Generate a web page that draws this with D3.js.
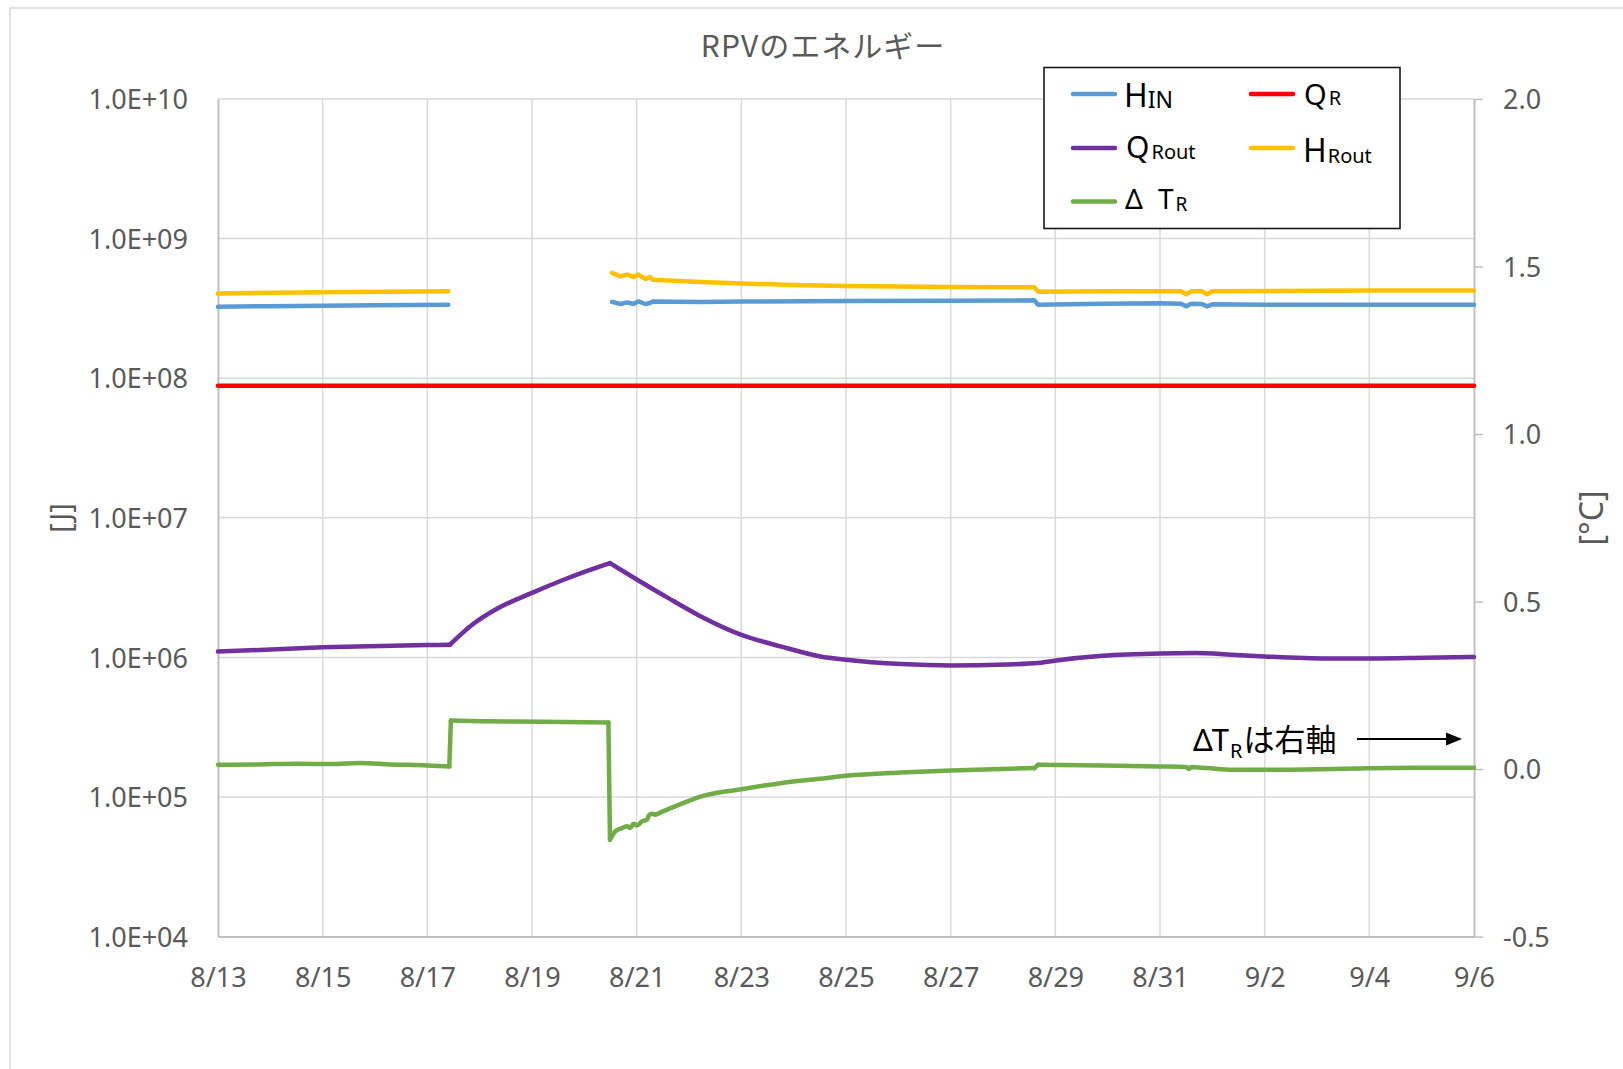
<!DOCTYPE html>
<html>
<head>
<meta charset="utf-8">
<title>RPVのエネルギー</title>
<script src="https://cdn.jsdelivr.net/npm/d3@7"></script>
<style>
  html, body { margin: 0; padding: 0; background: #ffffff; }
  svg { display: block; }
</style>
</head>
<body>
<svg id="chart" width="1623" height="1069"></svg>
<script>
// ---- Data -----------------------------------------------------------------
// Each series: [days since 8/13, value]. A null value breaks the line.
const xTickLabels = ["8/13", "8/15", "8/17", "8/19", "8/21", "8/23", "8/25",
                     "8/27", "8/29", "8/31", "9/2", "9/4", "9/6"];
const yTickValues = [1e4, 1e5, 1e6, 1e7, 1e8, 1e9, 1e10];
const yTickLabels = ["1.0E+04", "1.0E+05", "1.0E+06", "1.0E+07", "1.0E+08", "1.0E+09", "1.0E+10"];
const y2TickValues = [-0.5, 0.0, 0.5, 1.0, 1.5, 2.0];
const y2TickLabels = ["-0.5", "0.0", "0.5", "1.0", "1.5", "2.0"];

// H_IN [J]
const hIn = [
  [0, 3.25e8], [1, 3.28e8], [2, 3.30e8], [3, 3.33e8], [4.40, 3.36e8],
  [6.0, null],
  [7.53, 3.52e8], [7.69, 3.40e8], [7.82, 3.49e8], [7.94, 3.40e8], [8.03, 3.55e8],
  [8.17, 3.40e8], [8.25, 3.46e8], [8.31, 3.55e8], [9.22, 3.52e8], [10, 3.54e8],
  [12, 3.57e8], [14, 3.59e8], [15.6, 3.61e8], [15.67, 3.36e8], [16.9, 3.42e8],
  [18.0, 3.44e8], [18.4, 3.42e8], [18.5, 3.27e8], [18.6, 3.42e8], [18.8, 3.40e8],
  [18.9, 3.27e8], [19.0, 3.38e8], [20, 3.36e8], [22, 3.36e8], [24, 3.36e8]
];

// Q_R [J]
const qR = [[0, 8.83e7], [24, 8.83e7]];

// Q_Rout [J]
const qRout = [
  [0, 1.10e6], [2, 1.18e6], [4, 1.226e6], [4.43, 1.232e6], [4.88, 1.74e6],
  [5.34, 2.24e6], [6.0, 2.90e6], [6.58, 3.57e6], [7.0, 4.10e6], [7.49, 4.74e6],
  [8.01, 3.60e6], [8.59, 2.68e6], [9.20, 1.99e6], [10, 1.45e6], [10.75, 1.20e6],
  [11.51, 1.016e6], [12, 9.62e5], [13.06, 8.96e5], [14, 8.76e5], [15.06, 8.90e5],
  [15.67, 9.11e5], [16.02, 9.51e5], [16.9, 1.027e6], [18, 1.067e6], [18.67, 1.074e6],
  [19.38, 1.044e6], [20, 1.016e6], [21.2, 9.83e5], [22, 9.83e5], [23.06, 9.94e5],
  [24, 1.006e6]
];

// H_Rout [J]
const hRout = [
  [0, 4.05e8], [2, 4.12e8], [4.40, 4.19e8],
  [6.0, null],
  [7.53, 5.68e8], [7.69, 5.37e8], [7.82, 5.52e8], [7.94, 5.31e8], [8.03, 5.52e8],
  [8.17, 5.14e8], [8.25, 5.31e8], [8.31, 5.08e8], [9.22, 4.89e8], [10, 4.76e8],
  [11, 4.66e8], [12, 4.58e8], [13, 4.53e8], [14, 4.505e8], [15.6, 4.48e8],
  [15.67, 4.17e8], [17, 4.19e8], [18, 4.20e8], [18.4, 4.19e8], [18.5, 4.00e8],
  [18.6, 4.19e8], [18.8, 4.19e8], [18.9, 4.00e8], [19.0, 4.20e8], [20, 4.22e8],
  [22, 4.24e8], [24, 4.24e8]
];

// ΔT_R [°C] (right axis)
const dTR = [
  [0, 0.013], [0.8, 0.014], [1.5, 0.016], [2.2, 0.015], [2.7, 0.018], [3.3, 0.014],
  [4.0, 0.011], [4.42, 0.008], [4.45, 0.145], [5.0, 0.143], [6.2, 0.141],
  [7.46, 0.139], [7.49, -0.211], [7.59, -0.186], [7.72, -0.176], [7.82, -0.171],
  [7.88, -0.176], [7.94, -0.163], [8.01, -0.168], [8.10, -0.156], [8.20, -0.151],
  [8.23, -0.139], [8.29, -0.133], [8.36, -0.136], [8.58, -0.121], [8.90, -0.101],
  [9.22, -0.082], [10, -0.060], [10.75, -0.042], [11.5, -0.029], [12, -0.020],
  [13.06, -0.010], [14, -0.004], [15.6, 0.003], [15.67, 0.013], [16.9, 0.011],
  [18, 0.008], [18.5, 0.006], [18.55, 0.0], [18.6, 0.006], [18.9, 0.003],
  [19.38, -0.002], [20, -0.002], [21.5, 0.001], [22.8, 0.004], [24, 0.004]
];

// ---- Layout ---------------------------------------------------------------
const W = 1623, H = 1069;
const plot = { left: 218, right: 1474, top: 99, bottom: 936.6 };
const axisFont = "'Noto Sans', 'Open Sans', sans-serif";
const cjkFont = "'Noto Sans CJK JP', 'Noto Sans', sans-serif";
const gray = "#595959";

const svg = d3.select("#chart");

// outer chart frame
svg.append("rect")
  .attr("x", 10).attr("y", 8).attr("width", W + 40).attr("height", H + 40)
  .attr("fill", "#ffffff").attr("stroke", "#d9d9d9").attr("stroke-width", 1.5);

// ---- Scales ---------------------------------------------------------------
const parseMD = d3.timeParse("%m/%d");
const startDate = parseMD(xTickLabels[0]);
const endDate = parseMD(xTickLabels[xTickLabels.length - 1]);
const dayToDate = d => new Date(startDate.getTime() + d * 864e5);

const x = d3.scaleTime().domain([startDate, endDate]).range([plot.left, plot.right]);
const y = d3.scaleLog().domain([1e4, 1e10]).range([plot.bottom, plot.top]);
const y2 = d3.scaleLinear().domain([-0.5, 2.0]).range([plot.bottom, plot.top]);

const xTickDates = xTickLabels.map(parseMD);

// ---- Gridlines ------------------------------------------------------------
const grid = svg.append("g").attr("class", "grid");
grid.selectAll("line.h")
  .data(yTickValues.slice(1))
  .join("line")
  .attr("x1", plot.left).attr("x2", plot.right)
  .attr("y1", d => y(d)).attr("y2", d => y(d))
  .attr("stroke", "#d9d9d9").attr("stroke-width", 1.5);
grid.selectAll("line.v")
  .data(xTickDates.slice(1, -1))
  .join("line")
  .attr("x1", d => x(d)).attr("x2", d => x(d))
  .attr("y1", plot.top).attr("y2", plot.bottom)
  .attr("stroke", "#d9d9d9").attr("stroke-width", 1.5);

// ---- Axes -----------------------------------------------------------------
function styleAxis(g) {
  g.select(".domain").attr("stroke", "#bfbfbf").attr("stroke-width", 2);
  g.selectAll(".tick line").attr("stroke", "#bfbfbf").attr("stroke-width", 1.5);
  g.selectAll(".tick text")
    .attr("fill", gray)
    .style("font-family", axisFont)
    .style("font-size", "27px");
}

svg.append("g")
  .attr("transform", `translate(${plot.left},0)`)
  .call(d3.axisLeft(y).tickValues(yTickValues)
    .tickFormat((d, i) => yTickLabels[i]).tickSize(0).tickPadding(30))
  .call(styleAxis)
  .call(g => g.selectAll(".tick text").attr("dy", "0.36em"));

svg.append("g")
  .attr("transform", `translate(${plot.right},0)`)
  .call(d3.axisRight(y2).tickValues(y2TickValues)
    .tickFormat((d, i) => y2TickLabels[i]).tickSizeInner(9).tickSizeOuter(0).tickPadding(20))
  .call(styleAxis)
  .call(g => g.selectAll(".tick text").attr("dy", "0.36em"));

svg.append("g")
  .attr("transform", `translate(0,${plot.bottom})`)
  .call(d3.axisBottom(x).tickValues(xTickDates)
    .tickFormat((d, i) => xTickLabels[i]).tickSize(0).tickPadding(31))
  .call(styleAxis);

// ---- Series ---------------------------------------------------------------
// Split a series into pieces at the given corner days, so that a smoothing
// curve keeps the sharp corners of the trace while rounding the rest.
function splitAt(data, corners) {
  const out = [];
  let cur = [];
  data.forEach(p => {
    cur.push(p);
    if (corners.includes(p[0])) { out.push(cur); cur = [p]; }
  });
  if (cur.length > 1) out.push(cur);
  return out;
}

const series = [
  { data: hIn,   color: "#5b9bd5", axis: y,  corners: [], curve: d3.curveLinear },
  { data: qR,    color: "#ff0000", axis: y,  corners: [], curve: d3.curveLinear },
  { data: qRout, color: "#7030a0", axis: y,  corners: [4.43, 7.49], curve: d3.curveMonotoneX },
  { data: hRout, color: "#ffc000", axis: y,  corners: [], curve: d3.curveLinear },
  { data: dTR,   color: "#70ad47", axis: y2, corners: [4.42, 4.45, 7.46, 7.49, 8.36, 15.6, 15.67],
    curve: d3.curveMonotoneX }
];

const seriesLayer = svg.append("g").attr("fill", "none")
  .attr("stroke-width", 4.5).attr("stroke-linecap", "round").attr("stroke-linejoin", "round");

series.forEach(s => {
  const gen = d3.line()
    .defined(d => d[1] !== null)
    .x(d => x(dayToDate(d[0])))
    .y(d => s.axis(d[1]))
    .curve(s.curve);
  seriesLayer.append("g")
    .attr("stroke", s.color)
    .selectAll("path")
    .data(splitAt(s.data, s.corners))
    .join("path")
    .attr("d", gen);
});

// ---- Titles ---------------------------------------------------------------
svg.append("text")
  .attr("x", 823).attr("y", 57)
  .attr("text-anchor", "middle")
  .attr("fill", gray)
  .style("font-family", cjkFont).style("font-size", "30px").style("letter-spacing", "1px")
  .text("RPVのエネルギー");

svg.append("text")
  .attr("transform", "translate(61,518) rotate(-90)")
  .attr("text-anchor", "middle").attr("dy", "0.35em")
  .attr("fill", gray)
  .style("font-family", axisFont).style("font-size", "29px")
  .text("[J]");

svg.append("text")
  .attr("transform", "translate(1592,518) rotate(-90)")
  .attr("text-anchor", "middle").attr("dy", "0.35em")
  .attr("fill", gray)
  .style("font-family", axisFont).style("font-size", "32px")
  .text("[°C]");

// ---- Legend ---------------------------------------------------------------
const legend = svg.append("g").attr("class", "legend");
legend.append("rect")
  .attr("x", 1044).attr("y", 67.5).attr("width", 356).attr("height", 161)
  .attr("fill", "#ffffff").attr("stroke", "#1a1a1a").attr("stroke-width", 1.6);

// each label: a main symbol followed by a subscript, in one text element
const legendItems = [
  { color: "#5b9bd5", lx: 1073, ly: 94,  tx: 1124, ty: 106.7,
    parts: [{ t: "H", s: 32 }, { t: "IN", s: 23, dy: 1.6, dx: 0 }] },
  { color: "#ff0000", lx: 1251, ly: 94,  tx: 1304, ty: 104.5,
    parts: [{ t: "Q", s: 29 }, { t: "R", s: 20, dy: 0.5, dx: 2 }] },
  { color: "#7030a0", lx: 1073, ly: 148, tx: 1126, ty: 158.3,
    parts: [{ t: "Q", s: 30 }, { t: "Rout", s: 20, dy: 1, dx: 2 }] },
  { color: "#ffc000", lx: 1251, ly: 148, tx: 1303, ty: 161.7,
    parts: [{ t: "H", s: 32 }, { t: "Rout", s: 20, dy: 1.6, dx: 1 }] },
  { color: "#70ad47", lx: 1073, ly: 201.5, tx: 1125, ty: 209,
    parts: [{ t: "Δ", s: 28 }, { t: "T", s: 28, dx: 15 }, { t: "R", s: 19, dy: 2, dx: 2 }] }
];
const li = legend.selectAll("g.item").data(legendItems).join("g").attr("class", "item");
li.append("line")
  .attr("x1", d => d.lx).attr("x2", d => d.lx + 42)
  .attr("y1", d => d.ly).attr("y2", d => d.ly)
  .attr("stroke", d => d.color).attr("stroke-width", 4.5).attr("stroke-linecap", "round");
li.append("text")
  .attr("x", d => d.tx).attr("y", d => d.ty)
  .attr("fill", "#000000")
  .style("font-family", axisFont)
  .selectAll("tspan")
  .data(d => d.parts)
  .join("tspan")
  .attr("dx", p => p.dx || 0)
  .attr("dy", p => p.dy || 0)
  .style("font-size", p => p.s + "px")
  .text(p => p.t);

// ---- Annotation: ΔT_R uses the right axis ----------------------------------
const note = svg.append("g").attr("class", "note").attr("fill", "#000000");
const noteText = note.append("text").attr("x", 1193).attr("y", 750.7)
  .style("font-family", axisFont);
noteText.append("tspan").style("font-size", "31px").text("Δ");
noteText.append("tspan").style("font-size", "31px").attr("dx", -1).text("T");
noteText.append("tspan").attr("dy", 7.6).attr("dx", 1).style("font-size", "20px").text("R");
noteText.append("tspan").attr("dy", -7.6).attr("dx", 1)
  .style("font-family", cjkFont).style("font-size", "31px").text("は右軸");
note.append("line")
  .attr("x1", 1357).attr("x2", 1448).attr("y1", 739).attr("y2", 739)
  .attr("stroke", "#000000").attr("stroke-width", 2);
note.append("path")
  .attr("d", "M1446,732.5 L1462,739 L1446,745.5 Z");
</script>
</body>
</html>
